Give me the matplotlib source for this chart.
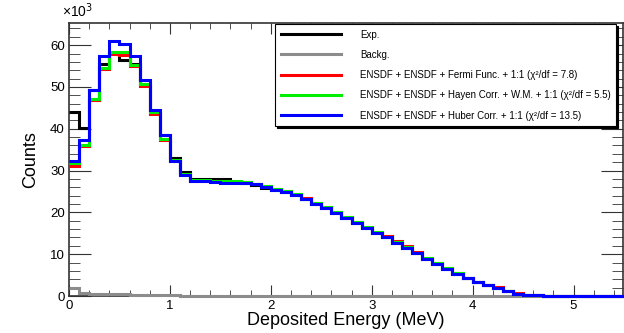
import numpy as np
import matplotlib.pyplot as plt
from matplotlib.ticker import MultipleLocator

plt.rcParams['font.family'] = ['Liberation Sans', 'DejaVu Sans']

# bin edges (MeV), 0.1 MeV bins
edges = np.round(np.arange(0, 5.51, 0.1), 2)

# counts in units of 10^3
exp_counts = [44.0, 40.1, 49.3, 55.6, 58.1, 56.5, 55.5, 50.8, 43.8, 38.6,
              32.9, 29.6, 28.0, 28.0, 28.0, 28.0, 27.2, 27.0, 26.6, 25.9,
              25.3, 24.8, 24.2, 23.1, 22.0, 21.1, 19.9, 18.7, 17.5, 16.3,
              15.1, 14.0, 12.8, 11.6, 10.2, 8.9, 7.6, 6.4, 5.2, 4.2,
              3.3, 2.6, 2.0, 1.2, 0.6, 0.3, 0.15, 0.05, 0, 0,
              0, 0, 0, 0, 0]
bkg_counts = [2.0, 0.7, 0.6, 0.5, 0.45, 0.4, 0.35, 0.3, 0.25, 0.2,
              0.15, 0.1, 0.08, 0.05, 0.04, 0.03, 0.02, 0.02, 0.01, 0.01,
              0, 0, 0, 0, 0, 0, 0, 0, 0, 0,
              0, 0, 0, 0, 0, 0, 0, 0, 0, 0,
              0, 0, 0, 0, 0, 0, 0, 0, 0, 0,
              0, 0, 0, 0, 0]
fermi_counts = [31.2, 35.9, 46.9, 54.2, 58.0, 57.7, 54.9, 50.2, 43.5, 37.3,
                32.4, 29.1, 27.6, 27.6, 27.5, 27.4, 27.3, 27.2, 26.9, 26.3,
                25.7, 25.2, 24.5, 23.4, 22.3, 21.4, 20.2, 19.0, 17.8, 16.6,
                15.4, 14.3, 13.1, 11.9, 10.5, 9.2, 7.9, 6.6, 5.4, 4.4,
                3.4, 2.7, 2.1, 1.3, 0.65, 0.3, 0.15, 0.05, 0, 0,
                0, 0, 0, 0, 0]
hayen_counts = [31.7, 36.1, 47.1, 54.6, 58.3, 58.3, 55.3, 50.6, 44.0, 37.6,
                32.6, 29.2, 27.7, 27.7, 27.6, 27.5, 27.4, 27.3, 26.9, 26.2,
                25.6, 25.1, 24.4, 23.3, 22.2, 21.3, 20.1, 18.9, 17.8, 16.5,
                15.3, 14.2, 13.0, 11.8, 10.4, 9.1, 7.8, 6.6, 5.4, 4.3,
                3.4, 2.7, 2.0, 1.3, 0.6, 0.3, 0.15, 0.05, 0, 0,
                0, 0, 0, 0, 0]
huber_counts = [32.2, 37.4, 49.3, 57.5, 60.9, 60.2, 57.5, 51.6, 44.6, 38.4,
                32.3, 29.0, 27.4, 27.4, 27.3, 27.1, 27.1, 27.0, 26.7, 26.0,
                25.4, 24.9, 24.2, 23.1, 22.0, 21.1, 19.9, 18.7, 17.5, 16.3,
                15.1, 14.0, 12.8, 11.6, 10.2, 8.9, 7.6, 6.4, 5.2, 4.2,
                3.3, 2.6, 2.0, 1.2, 0.6, 0.3, 0.15, 0.05, 0, 0,
                0, 0, 0, 0, 0]

labels = ['Exp.', 'Backg.',
          'ENSDF + ENSDF + Fermi Func. + 1:1 (χ²/df = 7.8)',
          'ENSDF + ENSDF + Hayen Corr. + W.M. + 1:1 (χ²/df = 5.5)',
          'ENSDF + ENSDF + Huber Corr. + 1:1 (χ²/df = 13.5)']
colors = ['black', '#8c8c8c', '#ff0000', '#00ee00', '#0000ff']
series = [exp_counts, bkg_counts, fermi_counts, hayen_counts, huber_counts]

fig = plt.figure(figsize=(6.24, 3.33), dpi=100)
ax = fig.add_axes([0.1106, 0.111, 0.8878, 0.820])

for vals, col, lab in zip(series, colors, labels):
    ax.stairs(vals, edges, color=col, lw=2.2, label=lab, baseline=None,
              clip_on=False, zorder=3)

ax.set_xlim(0, 5.49)
ax.set_ylim(0, 65.3)

ax.xaxis.set_major_locator(MultipleLocator(1))
ax.xaxis.set_minor_locator(MultipleLocator(0.2))
ax.yaxis.set_major_locator(MultipleLocator(10))
ax.yaxis.set_minor_locator(MultipleLocator(2))
ax.tick_params(which='both', direction='in', top=True, right=True,
               labelsize=9.5, color='#333333', pad=3)
ax.tick_params(axis='x', which='major', length=8)
ax.tick_params(axis='x', which='minor', length=4.5)
ax.tick_params(axis='y', which='major', length=16)
ax.tick_params(axis='y', which='minor', length=8)
for sp in ax.spines.values():
    sp.set_linewidth(1.2)
    sp.set_color('#333333')

ax.set_xlabel('Deposited Energy (MeV)', fontsize=13, labelpad=0)
ax.set_ylabel('Counts', fontsize=13, labelpad=8)
ax.text(-0.012, 1.01, '×10$^3$', transform=ax.transAxes, fontsize=10,
        ha='left', va='bottom')

leg = ax.legend(loc='upper right', bbox_to_anchor=(0.988, 0.995),
                fontsize=7, frameon=True, fancybox=False,
                edgecolor='black', framealpha=1,
                shadow={'color': 'black', 'alpha': 1, 'ox': 1.5, 'oy': -1.5},
                handlelength=6.2, handletextpad=2.0, labelspacing=1.05,
                borderpad=0.55, borderaxespad=0)
leg.get_frame().set_linewidth(0.8)
for line in leg.get_lines():
    line.set_linewidth(2.2)

fig.savefig('out.png', dpi=100)
